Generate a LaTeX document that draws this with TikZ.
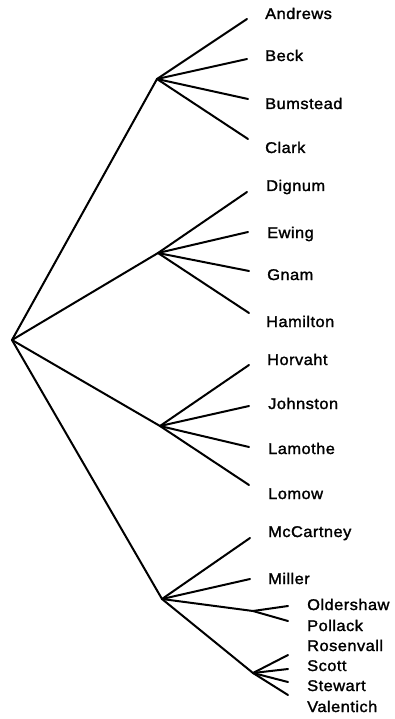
\documentclass[tikz,border=0pt]{standalone}
\usepackage{fontspec}
\setmainfont{Liberation Sans}[FakeStretch=1.06,FakeBold=1.6,LetterSpace=3]
\begin{document}
\begin{tikzpicture}[x=1pt,y=-1pt,
  edge/.style={line width=2pt,line cap=round,line join=round},
  lbl/.style={anchor=base west,inner sep=0pt,font=\fontsize{15.5}{17}\selectfont}]
\useasboundingbox (0,0) rectangle (395,719);
% hubs
\coordinate (root) at (12,340);
\coordinate (g1) at (157,79);
\coordinate (g2) at (158,253);
\coordinate (g3) at (160,426);
\coordinate (g4) at (162,599);
\coordinate (s1) at (253,611);
\coordinate (s2) at (253,673);
% leaf ends
\coordinate (eA) at (247,19);
\coordinate (eB) at (247,59);
\coordinate (eC) at (248,99);
\coordinate (eD) at (248,139);
\coordinate (eE) at (247,192);
\coordinate (eF) at (248,232);
\coordinate (eG) at (249,271);
\coordinate (eH) at (249,313);
\coordinate (eI) at (249,365);
\coordinate (eJ) at (249,406);
\coordinate (eK) at (249,447);
\coordinate (eL) at (249,485);
\coordinate (eM) at (250,538);
\coordinate (eN) at (250,579);
\coordinate (eO) at (288,606);
\coordinate (eP) at (288,621);
\coordinate (eQ) at (288,655);
\coordinate (eR) at (288,669);
\coordinate (eS) at (288,682);
\coordinate (eT) at (288,695);
% labels
\node[lbl] (Andrews) at (265,19) {Andrews};
\node[lbl] (Beck) at (265,61) {Beck};
\node[lbl] (Bumstead) at (265,109) {Bumstead};
\node[lbl] (Clark) at (265,153) {Clark};
\node[lbl] (Dignum) at (266,191) {Dignum};
\node[lbl] (Ewing) at (267,238) {Ewing};
\node[lbl] (Gnam) at (267,280) {Gnam};
\node[lbl] (Hamilton) at (266,327) {Hamilton};
\node[lbl] (Horvaht) at (267,365) {Horvaht};
\node[lbl] (Johnston) at (268,409) {Johnston};
\node[lbl] (Lamothe) at (268,454) {Lamothe};
\node[lbl] (Lomow) at (268,499) {Lomow};
\node[lbl] (McCartney) at (268,537) {McCartney};
\node[lbl] (Miller) at (268,584) {Miller};
\node[lbl] (Oldershaw) at (307,610) {Oldershaw};
\node[lbl] (Pollack) at (307,631) {Pollack};
\node[lbl] (Rosenvall) at (307,651) {Rosenvall};
\node[lbl] (Scott) at (307,671) {Scott};
\node[lbl] (Stewart) at (307,691) {Stewart};
\node[lbl] (Valentich) at (307,712) {Valentich};
% edges
\foreach \g in {g1,g2,g3,g4} \draw[edge] (root) -- (\g);
\foreach \e in {eA,eB,eC,eD} \draw[edge] (g1) -- (\e);
\foreach \e in {eE,eF,eG,eH} \draw[edge] (g2) -- (\e);
\foreach \e in {eI,eJ,eK,eL} \draw[edge] (g3) -- (\e);
\foreach \e in {eM,eN,s1,s2} \draw[edge] (g4) -- (\e);
\foreach \e in {eO,eP} \draw[edge] (s1) -- (\e);
\foreach \e in {eQ,eR,eS,eT} \draw[edge] (s2) -- (\e);
\end{tikzpicture}
\end{document}
